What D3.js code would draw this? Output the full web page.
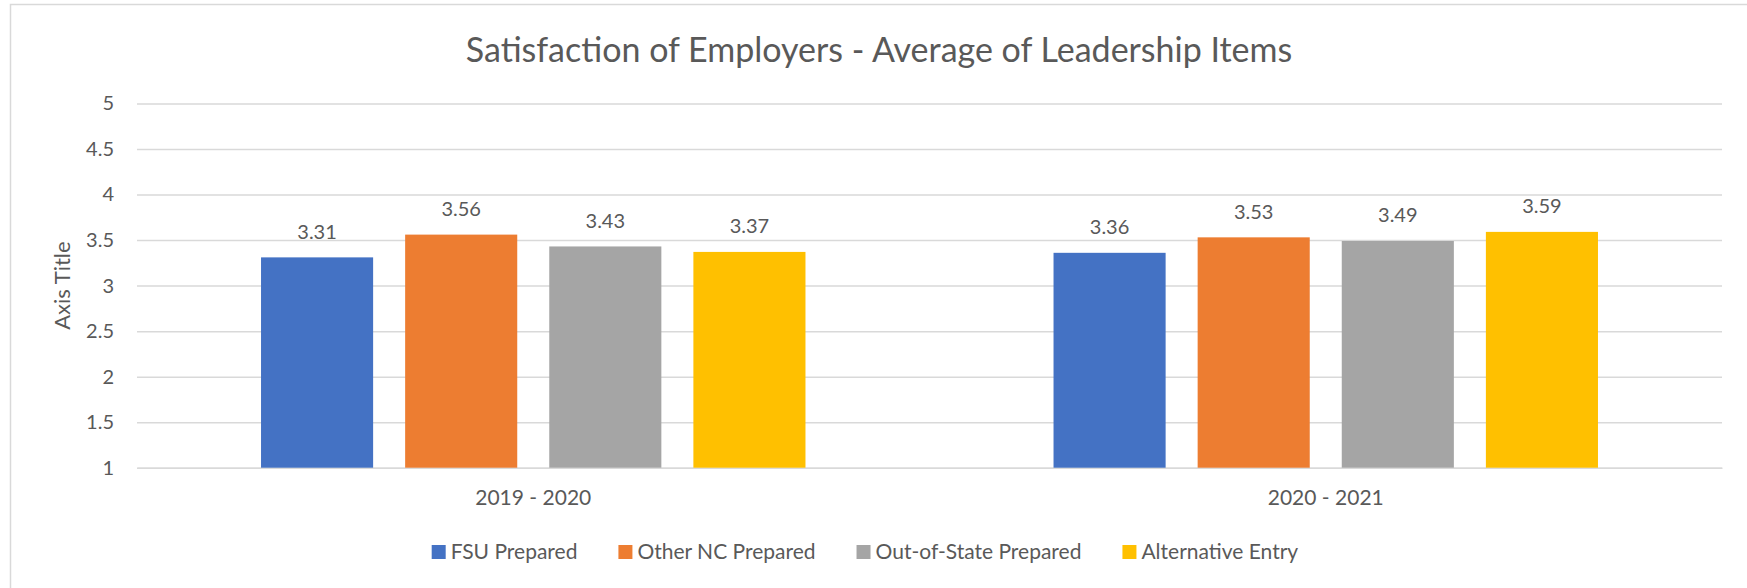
<!DOCTYPE html>
<html>
<head>
<meta charset="utf-8">
<script src="https://cdn.jsdelivr.net/npm/d3@7/dist/d3.min.js"></script>
<style>
  html, body { margin: 0; padding: 0; background: #fff; }
  svg text { font-family: Lato, "Open Sans", sans-serif; fill: #595959; }
</style>
</head>
<body>
<div class="chartWrap"></div>
<script>
var width = 1747,
  height = 588;

// data
var categories = ['2019 - 2020', '2020 - 2021'];
var seriesNames = ['FSU Prepared', 'Other NC Prepared', 'Out-of-State Prepared', 'Alternative Entry'];
var fsuPrepared = [3.31, 3.36];
var otherNcPrepared = [3.56, 3.53];
var outOfStatePrepared = [3.43, 3.49];
var alternativeEntry = [3.37, 3.59];
var yTicks = [1, 1.5, 2, 2.5, 3, 3.5, 4, 4.5, 5];

var colors = ['#4472c4', '#ed7d31', '#a5a5a5', '#ffc000'];
var seriesValues = [fsuPrepared, otherNcPrepared, outOfStatePrepared, alternativeEntry];

var plot = {left: 137, right: 1722, top: 103.5, bottom: 467.7};

var svg = d3.select('.chartWrap')
  .append('svg')
  .attr('width', width)
  .attr('height', height);

// chart area border
svg.append('rect')
  .attr('x', 10.5)
  .attr('y', 4.5)
  .attr('width', 1760)
  .attr('height', 620)
  .style('fill', '#fff')
  .style('stroke', '#d9d9d9')
  .style('stroke-width', 1.5);

var y = d3.scaleLinear().domain([1, 5]).range([plot.bottom, plot.top]);

var x0 = d3.scaleBand()
  .domain(categories)
  .range([plot.left, plot.right])
  .padding(0);

// bars take ~69% of each category, with ~22% gaps between them
var groupPad = x0.bandwidth() * 0.1565;
var x1 = d3.scaleBand()
  .domain(seriesNames)
  .range([groupPad, x0.bandwidth() - groupPad])
  .paddingInner(0.2222)
  .paddingOuter(0);

// gridlines + y labels
var yAxis = svg.append('g')
  .attr('transform', 'translate(' + plot.left + ',0)')
  .call(d3.axisLeft(y)
    .tickValues(yTicks)
    .tickSize(-(plot.right - plot.left))
    .tickPadding(23)
    .tickFormat(d3.format('')));

yAxis.select('.domain').remove();
yAxis.selectAll('.tick line').style('stroke', '#d9d9d9').style('stroke-width', 1.5);
yAxis.selectAll('.tick text')
  .style('font-size', '20px')
  .style('fill', '#595959')
  .style('font-family', 'Lato, sans-serif');

// x axis labels
var xAxis = svg.append('g')
  .attr('transform', 'translate(0,' + plot.bottom + ')')
  .call(d3.axisBottom(x0).tickSize(0).tickPadding(22));

xAxis.select('.domain').style('stroke', '#d9d9d9').style('stroke-width', 1.5);
xAxis.selectAll('.tick text')
  .style('font-size', '21px')
  .style('fill', '#595959')
  .style('font-family', 'Lato, sans-serif');

// bars
var groups = svg.selectAll('.group')
  .data(categories)
  .enter()
    .append('g')
    .attr('class', 'group')
    .attr('transform', function(d){ return 'translate(' + x0(d) + ',0)'; });

seriesNames.forEach(function(name, s){
  groups.append('rect')
    .attr('x', x1(name))
    .attr('width', x1.bandwidth())
    .attr('y', function(d, i){ return y(seriesValues[s][i]); })
    .attr('height', function(d, i){ return y(1) - y(seriesValues[s][i]); })
    .style('fill', colors[s]);

  groups.append('text')
    .attr('x', x1(name) + x1.bandwidth() / 2)
    .attr('y', function(d, i){ return y(seriesValues[s][i]) - 18.5; })
    .attr('text-anchor', 'middle')
    .style('font-size', '20px')
    .text(function(d, i){ return seriesValues[s][i].toFixed(2); });
});

// title
svg.append('text')
  .attr('x', 879)
  .attr('y', 62)
  .attr('text-anchor', 'middle')
  .style('font-size', '34px')
  .text('Satisfaction of Employers - Average of Leadership Items');

// axis title
svg.append('text')
  .attr('transform', 'translate(70,' + ((plot.top + plot.bottom) / 2) + ') rotate(-90)')
  .attr('text-anchor', 'middle')
  .style('font-size', '22px')
  .text('Axis Title');

// legend
var legend = svg.append('g').attr('class', 'legend');
var items = legend.selectAll('.legendItem')
  .data(seriesNames)
  .enter()
    .append('g')
    .attr('class', 'legendItem');

items.append('rect')
  .attr('width', 14)
  .attr('height', 14)
  .attr('y', -14)
  .style('fill', function(d, i){ return colors[i]; });

items.append('text')
  .attr('x', 19)
  .style('font-size', '21px')
  .text(function(d){ return d; });

var cursor = 0;
items.each(function(){
  var w = this.getBBox().width;
  d3.select(this).attr('transform', 'translate(' + cursor + ',0)');
  cursor += w + 41;
});
cursor -= 41;
legend.attr('transform', 'translate(' + (865 - cursor / 2) + ',559)');
</script>
</body>
</html>
